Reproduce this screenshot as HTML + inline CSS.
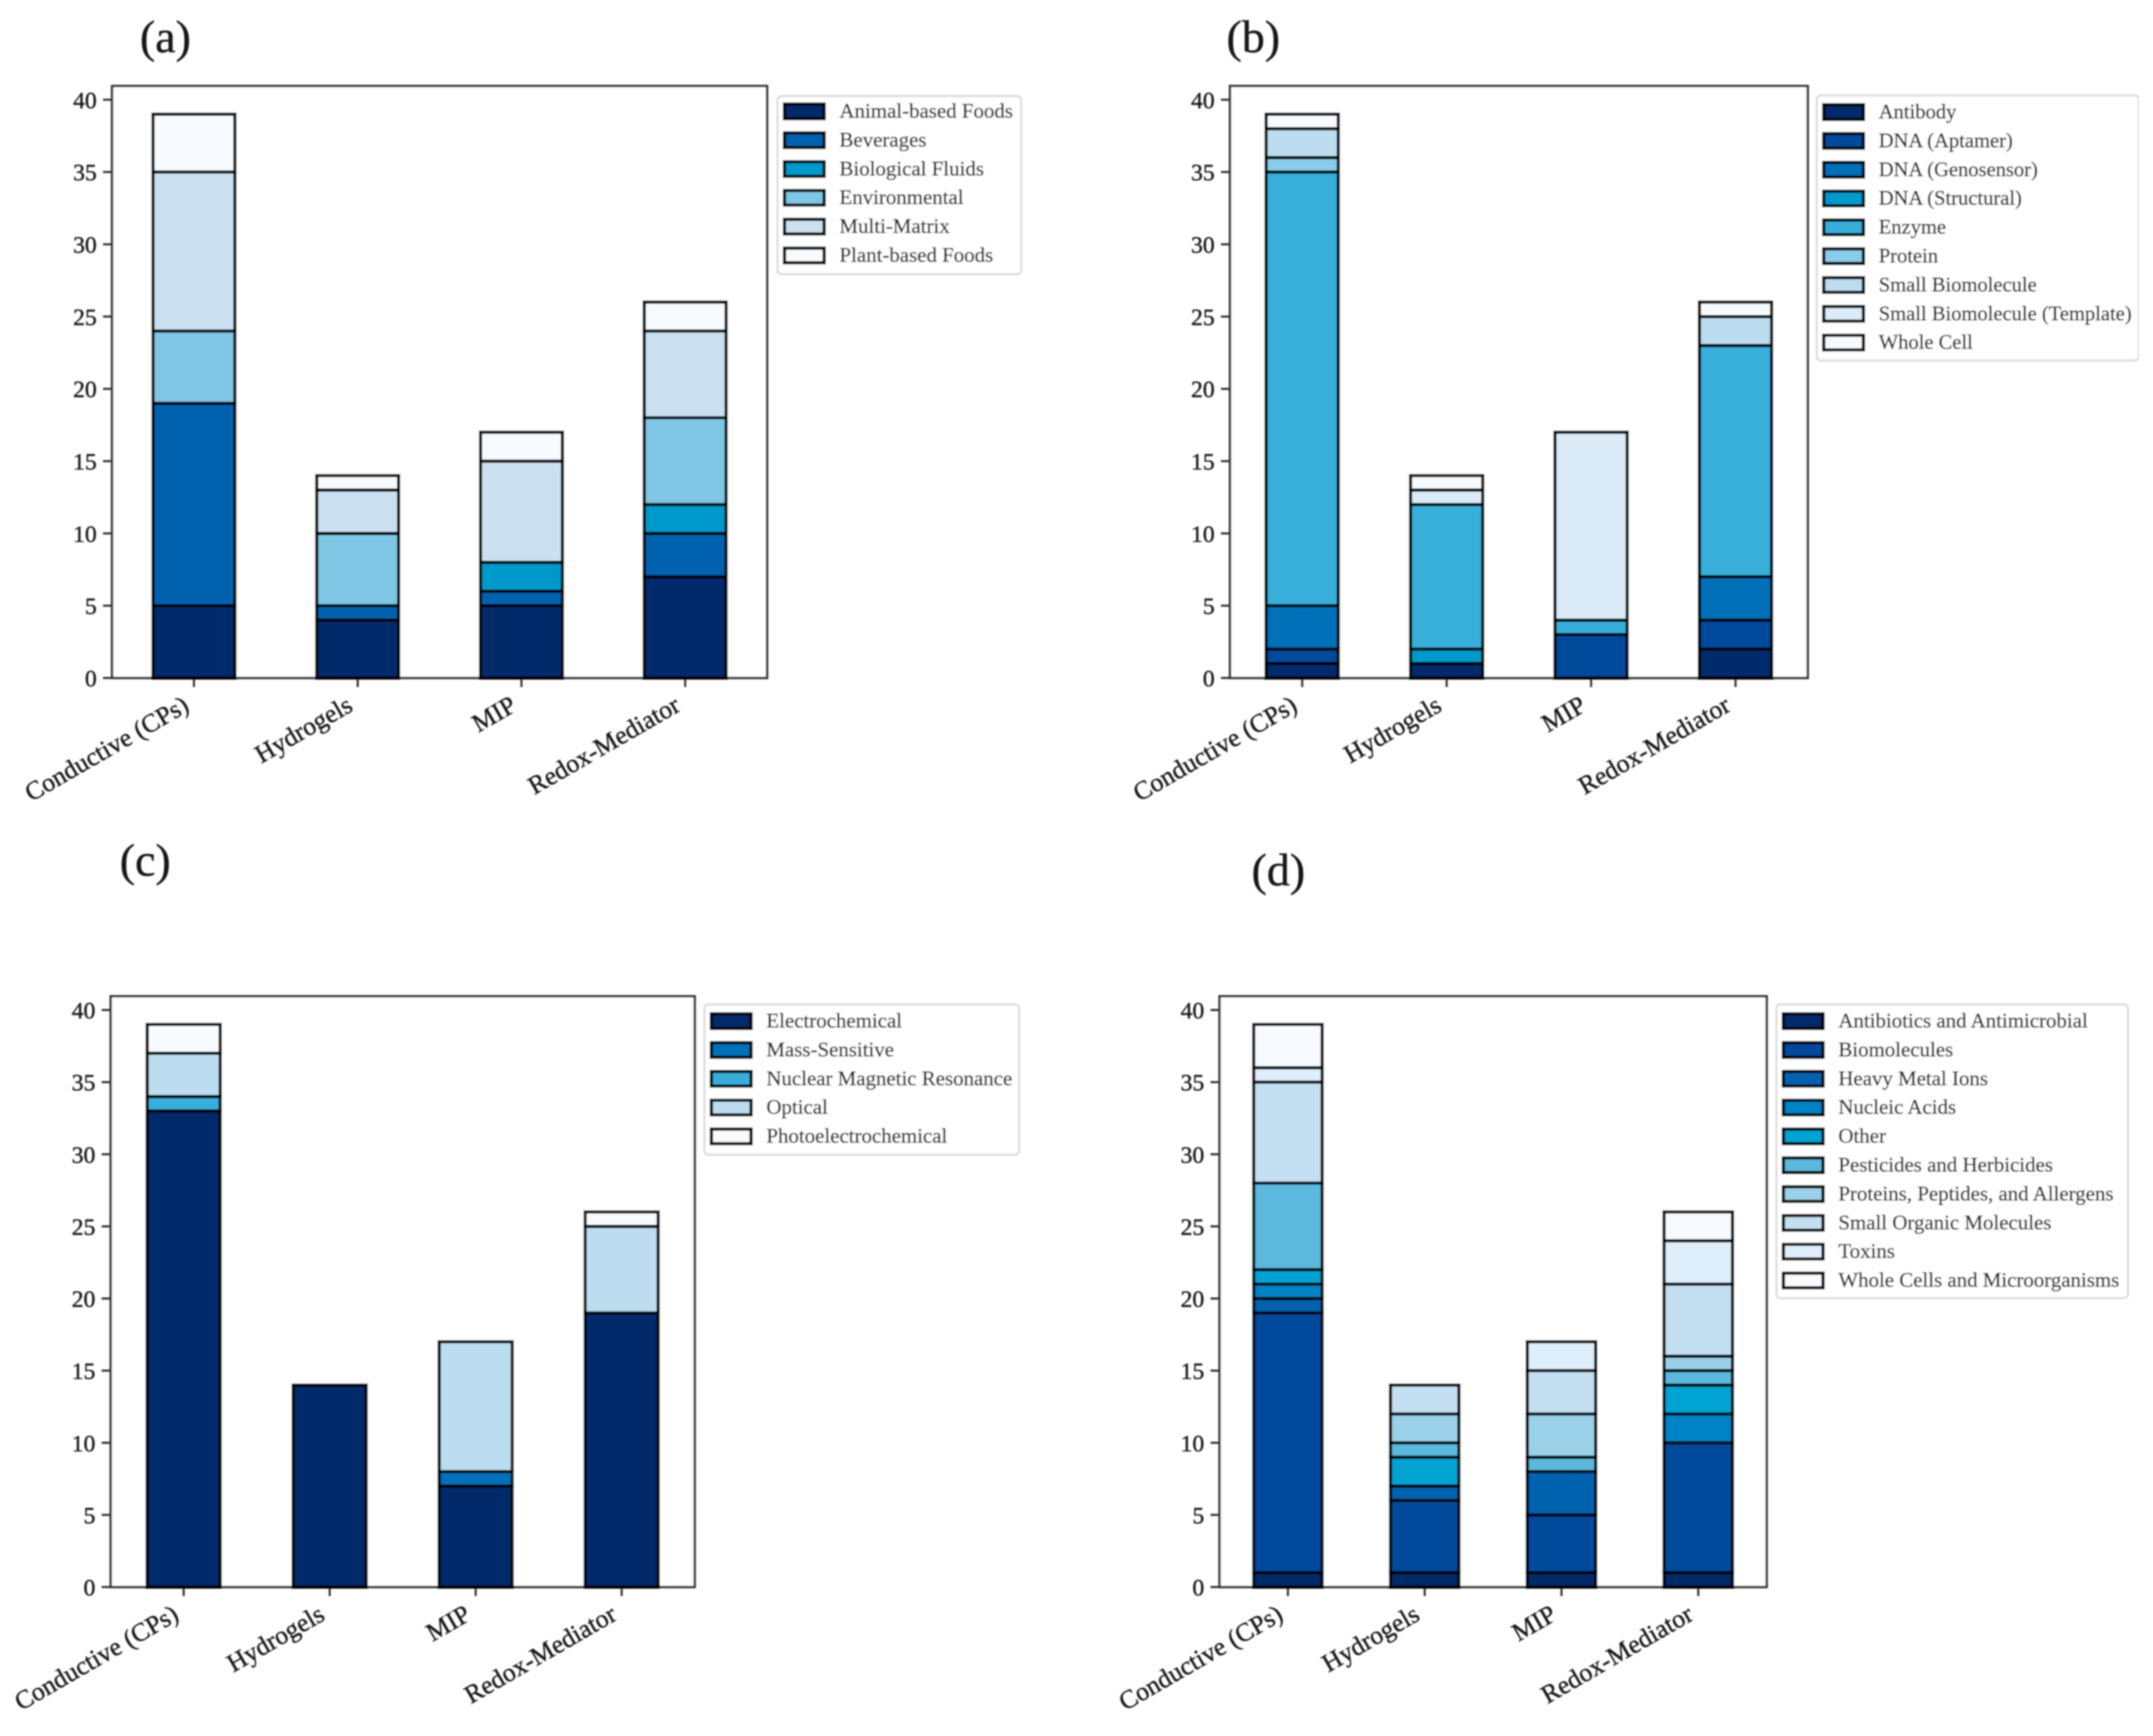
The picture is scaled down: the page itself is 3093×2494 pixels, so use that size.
<!DOCTYPE html>
<html lang="en">
<head>
<meta charset="utf-8">
<title>Stacked bar charts by polymer type</title>
<style>
html,body{margin:0;padding:0;background:#fff;width:3093px;height:2494px;overflow:hidden}
svg{display:block}
text{font-family:"Liberation Serif",serif;fill:#161616;stroke:#161616;stroke-width:0.5px}
</style>
</head>
<body>
<svg id="figure" xmlns="http://www.w3.org/2000/svg" width="3093" height="2494" viewBox="0 0 3093 2494">
<defs><filter id="soft" x="0" y="0" width="100%" height="100%"><feGaussianBlur stdDeviation="1"/></filter></defs>
<rect x="0" y="0" width="3093" height="2494" fill="#fff"/>
<g id="root" filter="url(#soft)"></g>
</svg>
<script>
const categories = ["Conductive (CPs)", "Hydrogels", "MIP", "Redox-Mediator"];
const yTickLabels = [0, 5, 10, 15, 20, 25, 30, 35, 40];

const legendA = ["Animal-based Foods", "Beverages", "Biological Fluids", "Environmental", "Multi-Matrix", "Plant-based Foods"];
const colorsA = ["#002c6b", "#0062ae", "#0099cc", "#7fc6e4", "#cbe1f2", "#f7fbff"];
const seriesA = [
  [5, 4, 5, 7],
  [14, 1, 1, 3],
  [0, 0, 2, 2],
  [5, 5, 0, 6],
  [11, 3, 7, 6],
  [4, 1, 2, 2]
];

const legendB = ["Antibody", "DNA (Aptamer)", "DNA (Genosensor)", "DNA (Structural)", "Enzyme", "Protein", "Small Biomolecule", "Small Biomolecule (Template)", "Whole Cell"];
const colorsB = ["#002c6b", "#004a9b", "#0070b8", "#0099cc", "#38aeda", "#8accea", "#bcdcf0", "#dbebf8", "#f7fbff"];
const seriesB = [
  [1, 1, 0, 2],
  [1, 0, 3, 2],
  [3, 0, 0, 3],
  [0, 1, 0, 0],
  [30, 10, 1, 16],
  [1, 0, 0, 0],
  [2, 0, 0, 2],
  [0, 1, 13, 0],
  [1, 1, 0, 1]
];

const legendC = ["Electrochemical", "Mass-Sensitive", "Nuclear Magnetic Resonance", "Optical", "Photoelectrochemical"];
const colorsC = ["#002c6b", "#0070b8", "#38aeda", "#bcdcf0", "#f7fbff"];
const seriesC = [
  [33, 14, 7, 19],
  [0, 0, 1, 0],
  [1, 0, 0, 0],
  [3, 0, 9, 6],
  [2, 0, 0, 1]
];

const legendD = ["Antibiotics and Antimicrobial", "Biomolecules", "Heavy Metal Ions", "Nucleic Acids", "Other", "Pesticides and Herbicides", "Proteins, Peptides, and Allergens", "Small Organic Molecules", "Toxins", "Whole Cells and Microorganisms"];
const colorsD = ["#002c6b", "#004a9b", "#0062ae", "#0083c4", "#00a3d1", "#5cb8dc", "#9bd1e8", "#c4dff2", "#dfeefb", "#f7fbff"];
const seriesD = [
  [1, 1, 1, 1],
  [18, 5, 4, 9],
  [1, 1, 3, 0],
  [1, 0, 0, 2],
  [1, 2, 0, 2],
  [6, 1, 1, 1],
  [0, 2, 3, 1],
  [7, 2, 3, 5],
  [1, 0, 2, 3],
  [3, 0, 0, 2]
];

const NS = "http://www.w3.org/2000/svg";
const root = document.getElementById("root");

function make(parent, tag, attrs, txt) {
  const el = document.createElementNS(NS, tag);
  for (const k in attrs) el.setAttribute(k, attrs[k]);
  if (txt !== undefined) el.textContent = txt;
  parent.appendChild(el);
  return el;
}

function slug(s) {
  return String(s).toLowerCase().replace(/[^a-z0-9]+/g, "-").replace(/^-|-$/g, "");
}

function drawPanel(id, box, letter, labelPos, series, colors, legendNames, legendBox) {
  const g = make(root, "g", {});
  
  

  const yMax = 40.95;
  const xScale = i => box.left + (i + 0.5) / categories.length * (box.right - box.left);
  const yScale = v => box.bottom - v / 40 * (box.bottom - box.y40);
  const barWidth = 0.5 * (box.right - box.left) / categories.length;

  const title = make(g, "text", {x: labelPos.x, y: labelPos.y, "font-size": 66}, "(" + letter + ")");
  
  

  const frame = make(g, "rect", {x: box.left, y: yScale(yMax), width: box.right - box.left, height: box.bottom - yScale(yMax), fill: "#fff", stroke: "#333", "stroke-width": 3.4});
  
  

  yTickLabels.forEach(v => {
    const tick = make(g, "line", {x1: box.left - 13, x2: box.left, y1: yScale(v), y2: yScale(v), stroke: "#333", "stroke-width": 3});
    
    
    const label = make(g, "text", {x: box.left - 22, y: yScale(v) + 12, "font-size": 34, "text-anchor": "end"}, v);
    
    
  });

  categories.forEach((c, i) => {
    const cx = xScale(i);
    const tick = make(g, "line", {x1: cx, x2: cx, y1: box.bottom, y2: box.bottom + 13, stroke: "#333", "stroke-width": 3});
    
    
    const ax = cx - 5, ay = box.bottom + 46;
    const label = make(g, "text", {x: ax, y: ay, "font-size": 37, "text-anchor": "end", transform: "rotate(-30 " + ax + " " + ay + ")"}, c);
    
    

    let base = 0;
    series.forEach((vals, s) => {
      const v = vals[i];
      if (v > 0) {
        const seg = make(g, "rect", {x: cx - barWidth / 2, y: yScale(base + v), width: barWidth, height: yScale(base) - yScale(base + v), fill: colors[s], stroke: "#000", "stroke-width": 4.6});
        
        
      }
      base += v;
    });
  });

  const leg = make(g, "g", {});
  
  
  const legFrame = make(leg, "rect", {x: legendBox.x, y: legendBox.y, width: legendBox.w, height: legendBox.h, rx: 6, fill: "#fff", stroke: "#dcdcdc", "stroke-width": 3});
  
  
  legendNames.forEach((n, i) => {
    const rowY = legendBox.y + legendBox.rowStart + i * 41.4;
    const sw = make(leg, "rect", {x: legendBox.x + 10, y: rowY - 10.5, width: 57, height: 21, fill: colors[i], stroke: "#000", "stroke-width": 4.6});
    
    
    const t = make(leg, "text", {x: legendBox.x + 89, y: rowY + 9, "font-size": legendBox.font}, n);
    
    
  });
}

drawPanel("a", {left: 161, right: 1102, bottom: 974, y40: 143.3}, "a", {x: 201, y: 75}, seriesA, colorsA, legendA, {x: 1117, y: 138, w: 350, h: 256, rowStart: 22, font: 30});
drawPanel("b", {left: 1767, right: 2597, bottom: 974, y40: 143.3}, "b", {x: 1762, y: 75}, seriesB, colorsB, legendB, {x: 2610, y: 137, w: 463, h: 381, rowStart: 24, font: 29.5});
drawPanel("c", {left: 159, right: 998, bottom: 2280, y40: 1451}, "c", {x: 172, y: 1258}, seriesC, colorsC, legendC, {x: 1012, y: 1443, w: 452, h: 216, rowStart: 24, font: 30});
drawPanel("d", {left: 1752, right: 2538, bottom: 2280, y40: 1451}, "d", {x: 1798, y: 1272}, seriesD, colorsD, legendD, {x: 2552, y: 1443, w: 505, h: 422, rowStart: 24, font: 30});
</script>
</body>
</html>
